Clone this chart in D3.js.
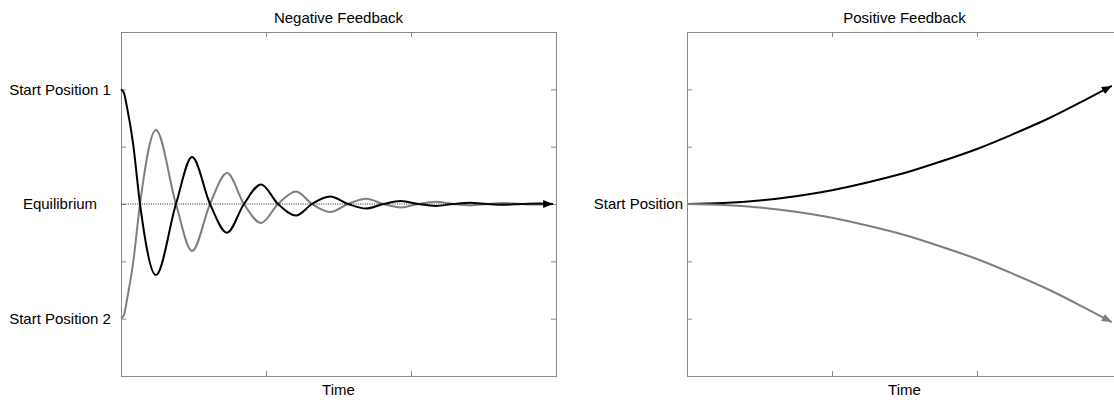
<!DOCTYPE html>
<html>
<head>
<meta charset="utf-8">
<script src="https://cdn.jsdelivr.net/npm/d3@7"></script>
<style>
  html, body { margin: 0; padding: 0; background: #fff; }
  svg { display: block; font-family: "Liberation Sans", Arial, sans-serif; }
</style>
</head>
<body>
<svg id="chart" width="1114" height="400"></svg>
<script>
// ---- data ----
const negTime = [0, 0.02, 0.042, 0.083, 0.131, 0.241, 0.379, 0.49, 0.614, 0.731, 0.848, 0.966, 1.083, 1.207, 1.317, 1.441, 1.566, 1.69, 1.81, 1.93, 2.05, 2.17, 2.29, 2.41, 2.525, 2.64, 2.76, 2.88, 2.98];
const negSeries1 = [1, 0.97, 0.84, 0.53, 0, -0.62, 0, 0.41, 0, -0.25, 0, 0.17, 0, -0.10, 0, 0.065, 0, -0.04, 0, 0.026, 0, -0.017, 0, 0.011, 0, -0.007, 0, 0.004, 0];
const negSeries2 = [-1, -0.97, -0.83, -0.52, 0, 0.645, 0, -0.41, 0, 0.27, 0, -0.165, 0, 0.11, 0, -0.07, 0, 0.045, 0, -0.03, 0, 0.019, 0, -0.012, 0, 0.008, 0, -0.005, 0];
const equilibriumLine = [[0, 0], [2.98, 0]];

const posTime = [0, 0.25, 0.5, 0.75, 1, 1.25, 1.5, 1.75, 2, 2.25, 2.5, 2.75, 2.93];
const posSeriesUp = [0, 0.008, 0.03, 0.068, 0.12, 0.19, 0.27, 0.37, 0.48, 0.61, 0.75, 0.91, 1.03];
const posSeriesDown = [0, -0.008, -0.03, -0.068, -0.12, -0.19, -0.27, -0.37, -0.48, -0.61, -0.75, -0.91, -1.03];

const yTickValues = [-1, -0.5, 0, 0.5, 1];
const xTickValues = [1, 2];
const negYLabels = { "1": "Start Position 1", "0": "Equilibrium", "-1": "Start Position 2" };
const posYLabels = { "0": "Start Position" };
const titles = ["Negative Feedback", "Positive Feedback"];
const xLabel = "Time";

// ---- layout ----
const svg = d3.select("#chart");
const W = 435, plotTop = 32, plotBottom = 376;
const frameColor = "#8a8a8a";
const grayLine = "#7f7f7f";

const defs = svg.append("defs");
function marker(id, color) {
  defs.append("marker")
    .attr("id", id)
    .attr("markerUnits", "userSpaceOnUse")
    .attr("viewBox", "0 0 10 8")
    .attr("refX", 10).attr("refY", 4)
    .attr("markerWidth", 10).attr("markerHeight", 8)
    .attr("orient", "auto")
    .append("path").attr("d", "M0,0 L10,4 L0,8 Z").attr("fill", color);
}
marker("arrowBlack", "#000");
marker("arrowGray", grayLine);

function panel(x0, title, labels, labelMode) {
  const g = svg.append("g");
  const x = d3.scaleLinear().domain([0, 3]).range([x0, x0 + W]);
  const y = d3.scaleLinear().domain([-1.5, 1.5]).range([plotBottom, plotTop]);

  g.append("text").attr("x", x(1.5)).attr("y", 23)
    .attr("text-anchor", "middle").attr("font-size", 15).attr("fill", "#000").text(title);
  g.append("text").attr("x", x(1.5)).attr("y", 395)
    .attr("text-anchor", "middle").attr("font-size", 15).attr("fill", "#000").text(xLabel);

  const styleAxis = sel => {
    sel.select(".domain").remove();
    sel.selectAll(".tick line").attr("stroke", frameColor);
  };
  g.append("g").attr("transform", `translate(0,${plotBottom})`)
    .call(d3.axisBottom(x).tickValues(xTickValues).tickSizeInner(-5).tickSizeOuter(0).tickFormat(""))
    .call(styleAxis);
  g.append("g").attr("transform", `translate(0,${plotTop})`)
    .call(d3.axisTop(x).tickValues(xTickValues).tickSizeInner(-5).tickSizeOuter(0).tickFormat(""))
    .call(styleAxis);
  g.append("g").attr("transform", `translate(${x0 + W},0)`)
    .call(d3.axisRight(y).tickValues(yTickValues).tickSizeInner(-5).tickSizeOuter(0).tickFormat(""))
    .call(styleAxis);
  const left = g.append("g").attr("transform", `translate(${x0},0)`)
    .call(d3.axisLeft(y).tickValues(yTickValues).tickSizeInner(-5).tickSizeOuter(0)
      .tickFormat(d => labels[String(d)] || ""))
    .call(styleAxis);
  left.selectAll(".tick text").attr("font-size", 15).attr("fill", "#000")
    .attr("font-family", "Liberation Sans, Arial, sans-serif");
  if (labelMode === "center") {
    left.selectAll(".tick text").attr("text-anchor", "middle").attr("x", -61);
  } else {
    left.selectAll(".tick text").attr("text-anchor", "end").attr("x", -4);
  }

  g.append("rect").attr("x", x0 + 0.5).attr("y", plotTop + 0.5)
    .attr("width", W).attr("height", plotBottom - plotTop)
    .attr("fill", "none").attr("stroke", frameColor).attr("stroke-width", 1);

  return { g, x, y };
}

// Negative feedback
const p1 = panel(121, titles[0], negYLabels, "center");
const line1 = d3.line().x(d => p1.x(d[0])).y(d => p1.y(d[1])).curve(d3.curveMonotoneX);
p1.g.append("path").datum(negTime.map((t, i) => [t, negSeries2[i]]))
  .attr("d", line1).attr("fill", "none").attr("stroke", grayLine).attr("stroke-width", 2);
p1.g.append("path").datum(negTime.map((t, i) => [t, negSeries1[i]]))
  .attr("d", line1).attr("fill", "none").attr("stroke", "#000").attr("stroke-width", 2);
p1.g.append("path").datum(equilibriumLine)
  .attr("d", d3.line().x(d => p1.x(d[0])).y(d => p1.y(d[1])))
  .attr("fill", "none").attr("stroke", "#222").attr("stroke-width", 1)
  .attr("stroke-dasharray", "1,1.3")
  .attr("marker-end", "url(#arrowBlack)");

// Positive feedback
const p2 = panel(687, titles[1], posYLabels, "end");
const line2 = d3.line().x(d => p2.x(d[0])).y(d => p2.y(d[1])).curve(d3.curveMonotoneX);
p2.g.append("path").datum(posTime.map((t, i) => [t, posSeriesUp[i]]))
  .attr("d", line2).attr("fill", "none").attr("stroke", "#000").attr("stroke-width", 2)
  .attr("marker-end", "url(#arrowBlack)");
p2.g.append("path").datum(posTime.map((t, i) => [t, posSeriesDown[i]]))
  .attr("d", line2).attr("fill", "none").attr("stroke", grayLine).attr("stroke-width", 2)
  .attr("marker-end", "url(#arrowGray)");
</script>
</body>
</html>
